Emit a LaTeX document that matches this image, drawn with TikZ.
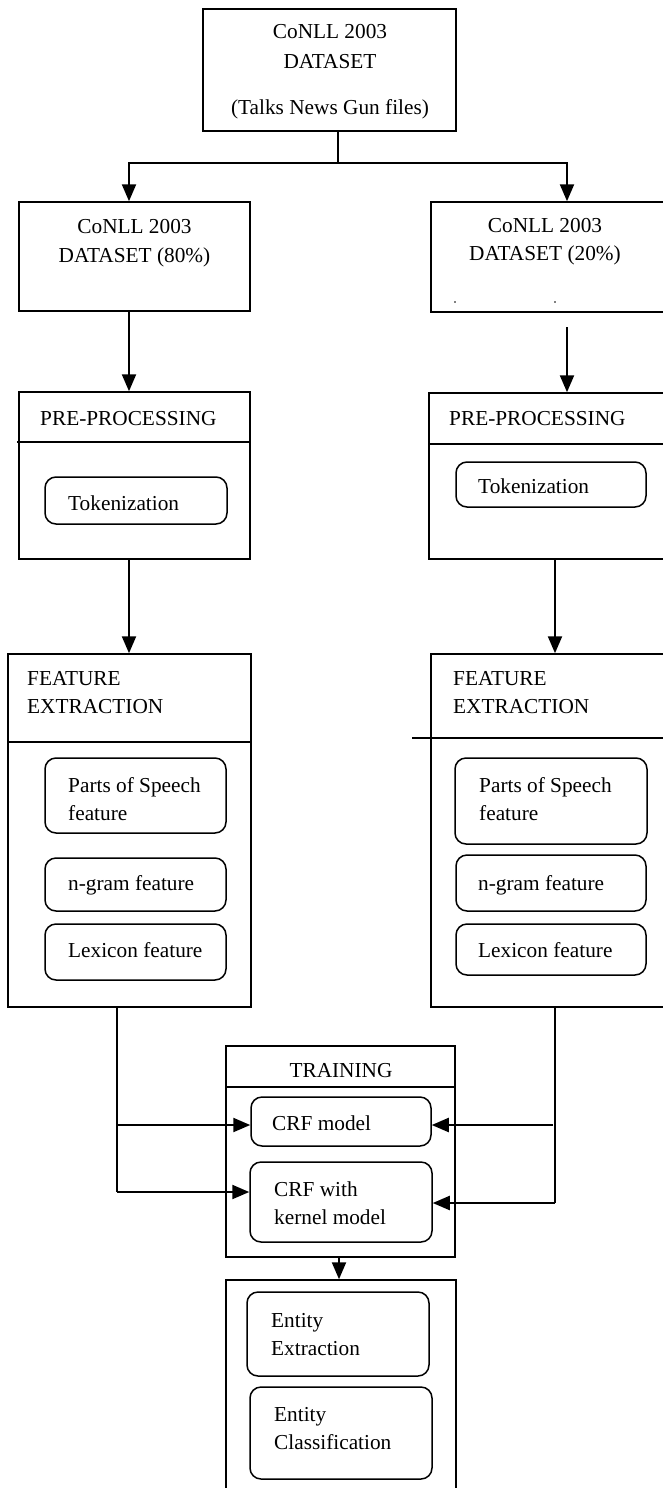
\documentclass[tikz,border=0pt]{standalone}
\usepackage{fontspec}
\setmainfont{Liberation Serif}
\usetikzlibrary{arrows.meta}
\begin{document}
\begin{tikzpicture}[x=1pt,y=-1pt,
  box/.style={draw, line width=1.5pt, inner sep=0pt},
  rbox/.style={draw, line width=1.5pt, rounded corners=11pt, inner sep=0pt},
  txt/.style={inner sep=0pt, font=\fontsize{21.3}{28}\selectfont},
  ltxt/.style={txt, align=left, anchor=base west},
  ctxt/.style={txt, align=center, anchor=base},
  arr/.style={line width=2.2pt, -{Triangle[length=17pt,width=14pt]}},
  ln/.style={line width=1.5pt},
  thinln/.style={line width=1.2pt}]
\useasboundingbox (0,0) rectangle (662,1488);
% ---------- boxes ----------
\node[box, minimum width=253pt, minimum height=122pt] (top) at (329.5,70) {};
\node[box, minimum width=231pt, minimum height=109pt] (ds1) at (134.5,256.5) {};
\node[box, minimum width=233pt, minimum height=110pt] (ds2) at (547.5,257) {};
\node[box, minimum width=231pt, minimum height=167pt] (pp1) at (134.5,475.5) {};
\node[rbox, minimum width=182pt, minimum height=47pt] (tok1) at (136,500.5) {};
\node[box, minimum width=235pt, minimum height=166pt] (pp2) at (546.5,476) {};
\node[rbox, minimum width=190pt, minimum height=45pt] (tok2) at (551,484.5) {};
\node[box, minimum width=243pt, minimum height=353pt] (fe1) at (129.5,830.5) {};
\node[rbox, minimum width=181pt, minimum height=75pt] (pos1) at (135.5,795.5) {};
\node[rbox, minimum width=181pt, minimum height=53pt] (ng1) at (135.5,884.5) {};
\node[rbox, minimum width=181pt, minimum height=56pt] (lex1) at (135.5,952) {};
\node[box, minimum width=233pt, minimum height=353pt] (fe2) at (547.5,830.5) {};
\node[rbox, minimum width=192pt, minimum height=86pt] (pos2) at (551,801) {};
\node[rbox, minimum width=190pt, minimum height=56pt] (ng2) at (551,883) {};
\node[rbox, minimum width=190pt, minimum height=51pt] (lex2) at (551,949.5) {};
\node[box, minimum width=229pt, minimum height=211pt] (tr) at (340.5,1151.5) {};
\node[rbox, minimum width=180pt, minimum height=49pt] (crf) at (341,1121.5) {};
\node[rbox, minimum width=182pt, minimum height=80pt] (kern) at (341,1202) {};
\node[box, minimum width=230pt, minimum height=212pt] (out) at (341,1386) {};
\node[rbox, minimum width=182pt, minimum height=84pt] (ee) at (338,1334) {};
\node[rbox, minimum width=182pt, minimum height=92pt] (ec) at (341,1433) {};
% ---------- header separators ----------
\draw[ln] (17,442) -- (pp1.east |- 0,442);
\draw[ln] (pp2.west |- 0,444) -- (pp2.east |- 0,444);
\draw[ln] (fe1.west |- 0,742) -- (fe1.east |- 0,742);
\draw[ln] (412,738) -- (fe2.east |- 0,738);
\draw[ln] (tr.west |- 0,1087) -- (tr.east |- 0,1087);
% small marks in the 20% box
\fill (455,302) circle (0.8pt);
\fill (555,302) circle (0.8pt);
% ---------- texts (anchor = baseline of the last line) ----------
\node[ctxt] (ttop) at (330,114) {CoNLL 2003\\[2pt]DATASET\\[18pt](Talks News Gun files)};
\node[ctxt] (tds1) at (134.5,262) {CoNLL 2003\\[1pt]DATASET (80\%)};
\node[ctxt] (tds2) at (545,260) {CoNLL 2003\\DATASET (20\%)};
\node[ltxt] (tpp1) at (40,425) {PRE-PROCESSING};
\node[ltxt] (ttok1) at (68,510) {Tokenization};
\node[ltxt] (tpp2) at (449,425) {PRE-PROCESSING};
\node[ltxt] (ttok2) at (478,493) {Tokenization};
\node[ltxt] (tfe1) at (27,713) {FEATURE\\EXTRACTION};
\node[ltxt] (tpos1) at (68,820) {Parts of Speech\\feature};
\node[ltxt] (tng1) at (68,890) {n-gram feature};
\node[ltxt] (tlex1) at (68,957) {Lexicon feature};
\node[ltxt] (tfe2) at (453,713) {FEATURE\\EXTRACTION};
\node[ltxt] (tpos2) at (479,820) {Parts of Speech\\feature};
\node[ltxt] (tng2) at (478,890) {n-gram feature};
\node[ltxt] (tlex2) at (478,957) {Lexicon feature};
\node[ctxt] (ttr) at (341,1077) {TRAINING};
\node[ltxt] (tcrf) at (272,1130) {CRF model};
\node[ltxt] (tkern) at (274,1224) {CRF with\\kernel model};
\node[ltxt] (tee) at (271,1355) {Entity\\Extraction};
\node[ltxt] (tec) at (274,1449) {Entity\\Classification};
% ---------- connectors ----------
\coordinate (j) at (338,163);
\draw[thinln] (top.south -| j) -- (j);
\draw[arr] (j) -| (ds1.north -| 129,0);
\draw[arr] (j) -| (ds2.north -| 567,0);
\draw[arr] (ds1.south -| 129,0) -- (pp1.north -| 129,0);
\draw[arr] (567,327) -- (pp2.north -| 567,0);
\draw[arr] (pp1.south -| 129,0) -- (fe1.north -| 129,0);
\draw[arr] (pp2.south -| 555,0) -- (fe2.north -| 555,0);
% left side into training
\coordinate (lb) at (117,1192);
\draw[ln] (fe1.south -| lb) -- (lb);
\draw[arr] (lb) -- (kern.west |- lb);
\draw[arr] (117,1125) -- (crf.west |- 0,1125);
% right side into training
\coordinate (rb) at (555,1203);
\draw[ln] (fe2.south -| rb) -- (rb);
\draw[arr] (rb) -- (kern.east |- rb);
\draw[arr] (553,1125) -- (crf.east |- 0,1125);
% training to output
\draw[arr] (tr.south -| 339,0) -- (out.north -| 339,0);
\end{tikzpicture}
\end{document}
